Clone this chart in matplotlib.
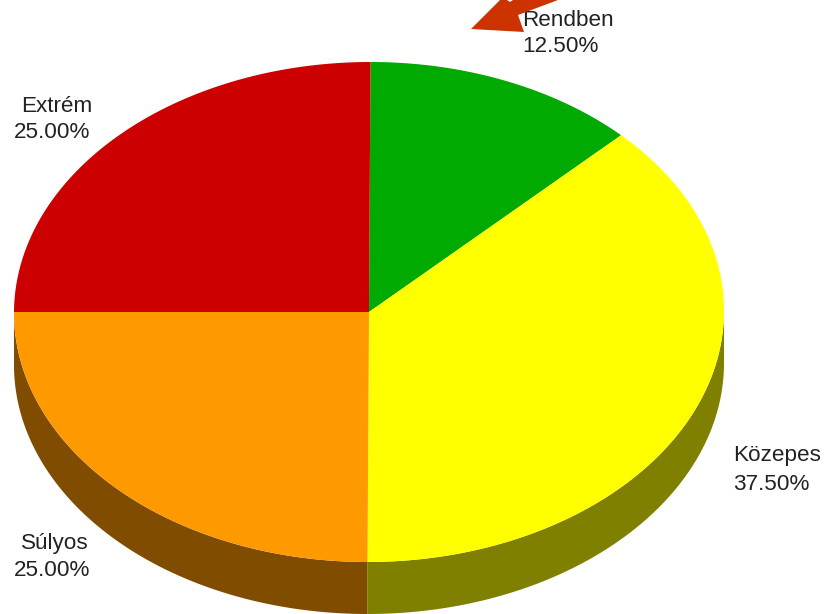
import numpy as np
import matplotlib
matplotlib.use("Agg")
import matplotlib.pyplot as plt
from matplotlib.patches import Polygon

# pie values, clockwise from 12 o'clock
labels = ["Rendben", "Közepes", "Súlyos", "Extrém"]
values = [12.5, 37.5, 25.0, 25.0]
colors = ["#00aa00", "#ffff00", "#ff9900", "#cc0000"]
side_colors = ["#005500", "#808000", "#804d00", "#660000"]

label_pos = [(522, 20), (733, 456), (21, 544), (21, 106)]
pct_pos = [(522, 47), (733, 484), (14, 571), (14, 133)]

W, H = 825, 614
CX, CY = 369, 312
RX, RY = 355, 250
DEPTH = 52
SHEAR = -0.006  # the source image is very slightly skewed

fig = plt.figure(figsize=(W / 100, H / 100), dpi=100)
ax = fig.add_axes([0, 0, 1, 1])
ax.set_xlim(0, W)
ax.set_ylim(H, 0)
ax.axis("off")


def rim(a0, a1, n=200):
    # angles in degrees clockwise from the top
    t = np.radians(np.linspace(a0, a1, n))
    y = CY - RY * np.cos(t)
    return CX + RX * np.sin(t) + SHEAR * (y - CY), y


# side wall first, only the front half is visible
start = 0.0
for v, side in zip(values, side_colors):
    end = start + v * 3.6
    a0, a1 = max(start, 90), min(end, 270)
    if a1 > a0:
        x, y = rim(a0, a1)
        pts = np.r_[np.c_[x, y], np.c_[x[::-1], y[::-1] + DEPTH]]
        ax.add_patch(Polygon(pts, closed=True, fc=side, ec="none"))
    start = end

# top face
start = 0.0
for v, col in zip(values, colors):
    end = start + v * 3.6
    x, y = rim(start, end)
    pts = np.r_[[[CX, CY]], np.c_[x, y]]
    ax.add_patch(Polygon(pts, closed=True, fc=col, ec="none"))
    start = end

for name, v, lp, pp in zip(labels, values, label_pos, pct_pos):
    ax.text(lp[0], lp[1], name, fontsize=16.2, family="Liberation Sans", va="center", color="#222222")
    ax.text(pp[0], pp[1], f"{v:.2f}%", fontsize=16.2, family="Liberation Sans", va="center", color="#222222")

# red arrow pointing at the Rendben slice, cut off by the top edge
arrow = [(471, 29), (524, 32), (518, 15), (558, 0), (513, 0), (510, 2), (507, 0), (500, 0)]
ax.add_patch(Polygon(arrow, closed=True, fc="#cc3300", ec="none", zorder=5))

fig.savefig("out.png", dpi=100)
